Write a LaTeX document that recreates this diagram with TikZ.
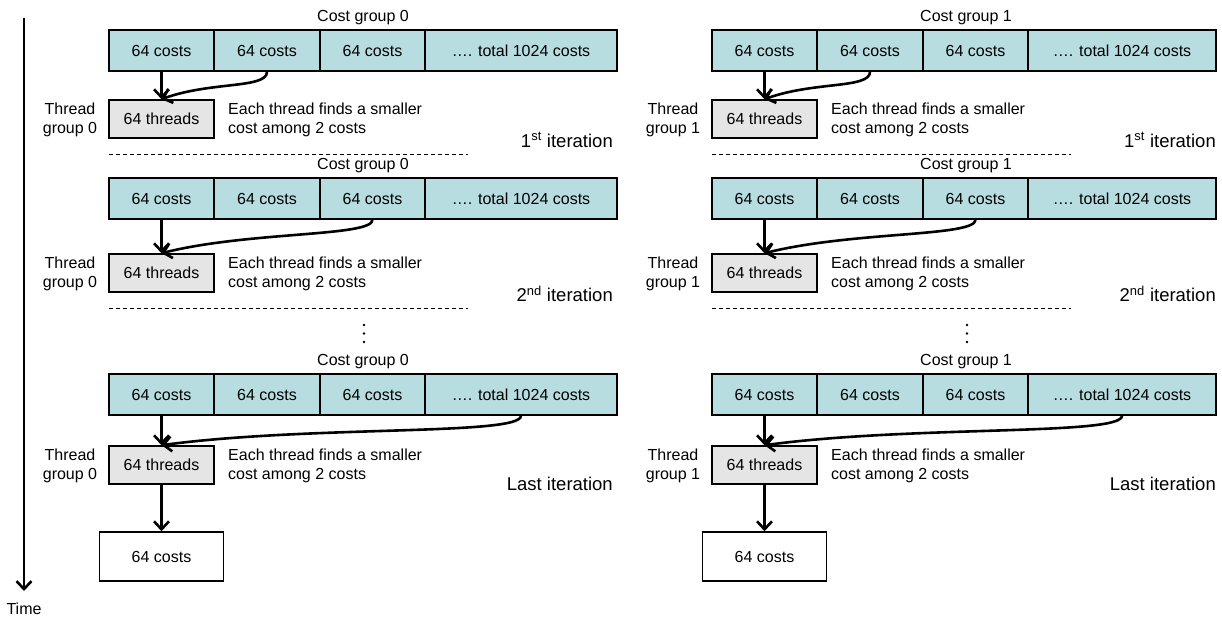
\documentclass[tikz,border=0pt]{standalone}
\usepackage{fontspec}
\setmainfont{Liberation Sans}
\usetikzlibrary{arrows.meta}
\definecolor{costFill}{RGB}{183,221,225}
\definecolor{threadFill}{RGB}{229,229,229}
\tikzstyle{costBox}=[shape = rectangle, minimum height = 41pt, inner sep = 0pt, draw, line width = 1.6pt, fill = costFill]
\tikzstyle{threadBox}=[shape = rectangle, minimum width = 105pt, minimum height = 38pt, inner sep = 0pt, draw, line width = 1.6pt, fill = threadFill]

\begin{document}
\begin{tikzpicture}[x = 1pt, y = -1pt, font = \fontsize{16}{19}\selectfont]
\tikzstyle{plainText} = [inner sep = 0pt, align = center]
\tikzstyle{noteText} = [inner sep = 0pt, align = left, anchor = west]
\tikzstyle{iterText} = [inner sep = 0pt, anchor = east, font = \fontsize{18.5}{22}\selectfont]
\tikzstyle{flowArrow} = [line width = 2.6pt, -{Straight Barb[length = 8pt, width = 15pt]}]
\tikzstyle{sepLine} = [line width = 1pt, dash pattern = on 4pt off 3pt]
\useasboundingbox (0,0) rectangle (1222,616);
% time axis
\coordinate (timeTop) at (24,18);
\coordinate (timeEnd) at (24,591);
\node[plainText] (timeLabel) at (24,609) {Time};
\draw[flowArrow] (timeTop) -- (timeEnd);
\foreach \g/\dx/\w in {0/0/192, 1/603/188} {
  % 1st iteration
  \node[plainText] (group\g-1) at (363+\dx,18) {Cost group \g};
  \node[costBox, minimum width = 105pt] (cost\g-1-1) at (161.5+\dx,50.5) {64 costs};
  \node[costBox, minimum width = 106pt] (cost\g-1-2) at (267+\dx,50.5) {64 costs};
  \node[costBox, minimum width = 105pt] (cost\g-1-3) at (372.5+\dx,50.5) {64 costs};
  \node[costBox, minimum width = \w pt] (cost\g-1-4) at (425+\w/2+\dx,50.5) {…. total 1024 costs};
  \node[plainText] (tg\g-1) at (70+\dx,120) {Thread\\group \g};
  \node[threadBox] (thr\g-1) at (161.5+\dx,119) {64 threads};
  \node[noteText] (note\g-1) at (228+\dx,120) {Each thread finds a smaller\\cost among 2 costs};
  \node[iterText] (iter\g-1) at (613+\dx,140) {1\textsuperscript{st} iteration};
  \draw[flowArrow] (cost\g-1-1) -- (thr\g-1);
  \draw[flowArrow] (cost\g-1-2.south) .. controls +(0,17) and +(50,-18) .. (thr\g-1.north);
  \draw[sepLine] (109+\dx,154) -- (468+\dx,154);
  % 2nd iteration
  \node[plainText] (group\g-2) at (363+\dx,166) {Cost group \g};
  \node[costBox, minimum width = 105pt] (cost\g-2-1) at (161.5+\dx,198.5) {64 costs};
  \node[costBox, minimum width = 106pt] (cost\g-2-2) at (267+\dx,198.5) {64 costs};
  \node[costBox, minimum width = 105pt] (cost\g-2-3) at (372.5+\dx,198.5) {64 costs};
  \node[costBox, minimum width = \w pt] (cost\g-2-4) at (425+\w/2+\dx,198.5) {…. total 1024 costs};
  \node[plainText] (tg\g-2) at (70+\dx,274) {Thread\\group \g};
  \node[threadBox] (thr\g-2) at (161.5+\dx,273) {64 threads};
  \node[noteText] (note\g-2) at (228+\dx,274) {Each thread finds a smaller\\cost among 2 costs};
  \node[iterText] (iter\g-2) at (613+\dx,294) {2\textsuperscript{nd} iteration};
  \draw[flowArrow] (cost\g-2-1) -- (thr\g-2);
  \draw[flowArrow] (cost\g-2-3.south) .. controls +(0,17) and +(88,-22) .. (thr\g-2.north);
  \draw[sepLine] (109+\dx,308) -- (468+\dx,308);
  \foreach \dy in {325,333.5,342} \fill (364+\dx,\dy) circle (1.3pt);
  % last iteration
  \node[plainText] (group\g-3) at (363+\dx,362) {Cost group \g};
  \node[costBox, minimum width = 105pt] (cost\g-3-1) at (161.5+\dx,394.5) {64 costs};
  \node[costBox, minimum width = 106pt] (cost\g-3-2) at (267+\dx,394.5) {64 costs};
  \node[costBox, minimum width = 105pt] (cost\g-3-3) at (372.5+\dx,394.5) {64 costs};
  \node[costBox, minimum width = \w pt] (cost\g-3-4) at (425+\w/2+\dx,394.5) {…. total 1024 costs};
  \node[plainText] (tg\g-3) at (70+\dx,466) {Thread\\group \g};
  \node[threadBox] (thr\g-3) at (161.5+\dx,465) {64 threads};
  \node[noteText] (note\g-3) at (228+\dx,466) {Each thread finds a smaller\\cost among 2 costs};
  \node[iterText] (iter\g-3) at (613+\dx,484) {Last iteration};
  \draw[flowArrow] (cost\g-3-1) -- (thr\g-3);
  \draw[flowArrow] (cost\g-3-4.south) .. controls +(0,20) and +(150,-20) .. (thr\g-3.north);
  \node[costBox, fill = white, minimum width = 124pt, minimum height = 49pt] (fin\g) at (161.5+\dx,556.5) {64 costs};
  \draw[flowArrow] (thr\g-3) -- (fin\g);
}
\end{tikzpicture}
\end{document}
